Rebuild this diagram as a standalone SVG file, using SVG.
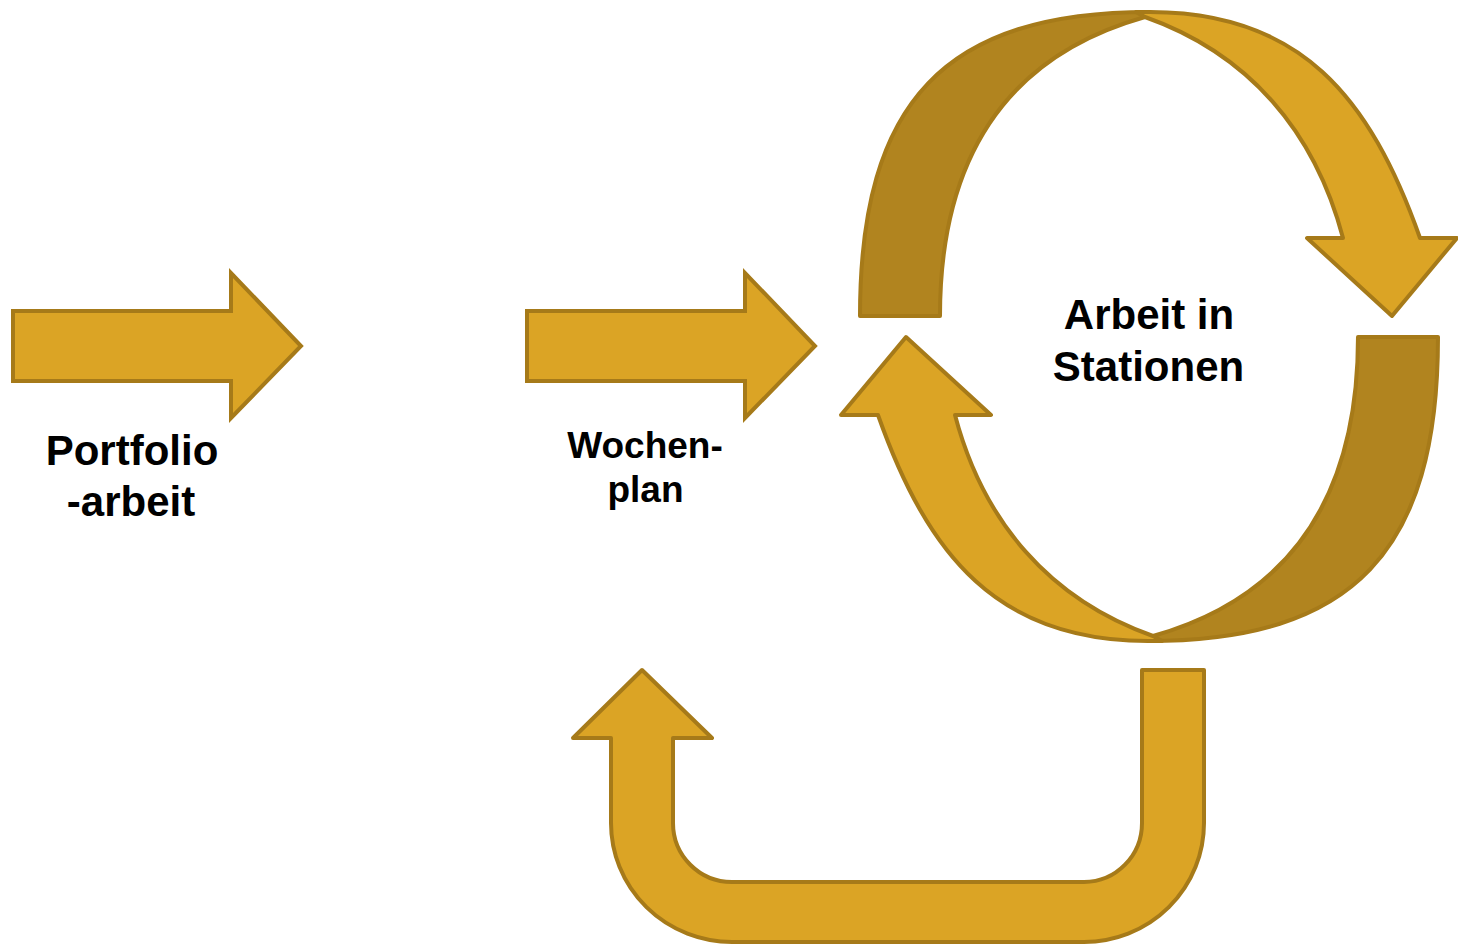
<svg xmlns="http://www.w3.org/2000/svg" width="1458" height="945" viewBox="0 0 1458 945">
  <style>
    .light { fill: #DBA425; stroke: #A67A19; stroke-width: 4; stroke-linejoin: round; }
    .dark { fill: #B1841F; stroke: #A67A19; stroke-width: 4; stroke-linejoin: round; }
    .block { fill: #DBA425; stroke: #A67A19; stroke-width: 4; stroke-linejoin: miter; }
    .label { font-family: "Liberation Sans", Arial, sans-serif; font-weight: bold; fill: #000; text-anchor: middle; }
  </style>
  <rect width="1458" height="945" fill="#FFFFFF"/>

  <g id="connectors">
    <!-- straight block arrows -->
    <path id="arrow-portfolio" class="block" d="M13,311 H231 V273 L301,346 L231,418 V381 H13 Z"/>
    <path id="arrow-wochenplan" class="block" d="M527,311 H745 V273 L815,346 L745,418 V381 H527 Z"/>

    <!-- upper half of the cycle: back face (dark) and front face with head -->
    <g id="cycle-upper">
      <path class="dark" d="M860,316 C860,101 945,12 1150,12 L1145,17 C1035,48 940,126 940,316 Z"/>
      <path class="light" d="M1145,17 L1136,12 L1150,12 C1300,12 1370,96.5 1420,238 L1457,238 L1392,316 L1307,238 L1343,238 C1315,131.6 1248.7,53.6 1145,17 Z"/>
    </g>

    <!-- lower half of the cycle: same shape turned half a revolution -->
    <g id="cycle-lower" transform="rotate(180 1149 326.5)">
      <path class="dark" d="M860,316 C860,101 945,12 1150,12 L1145,17 C1035,48 940,126 940,316 Z"/>
      <path class="light" d="M1145,17 L1136,12 L1150,12 C1300,12 1370,96.5 1420,238 L1457,238 L1392,316 L1307,238 L1343,238 C1315,131.6 1248.7,53.6 1145,17 Z"/>
    </g>

    <!-- U-turn arrow back to the weekly plan -->
    <path id="arrow-return" class="light" d="M1142,670 H1204 V823 A120 119 0 0 1 1084,942 H732 A121 119 0 0 1 611,823 V738 H573 L642,670 L712,738 H673 V823 A59 59 0 0 0 732,882 H1084 A58 59 0 0 0 1142,823 Z"/>
  </g>

  <g id="node-portfolio">
    <text class="label" x="132" y="465" font-size="42">Portfolio</text>
    <text class="label" x="131" y="516" font-size="42">-arbeit</text>
  </g>

  <g id="node-wochenplan">
    <text class="label" x="645" y="458" font-size="37">Wochen-</text>
    <text class="label" x="645.5" y="502" font-size="37">plan</text>
  </g>

  <g id="node-stationen">
    <text class="label" x="1149" y="329" font-size="42">Arbeit in</text>
    <text class="label" x="1148.5" y="381" font-size="42">Stationen</text>
  </g>
</svg>
